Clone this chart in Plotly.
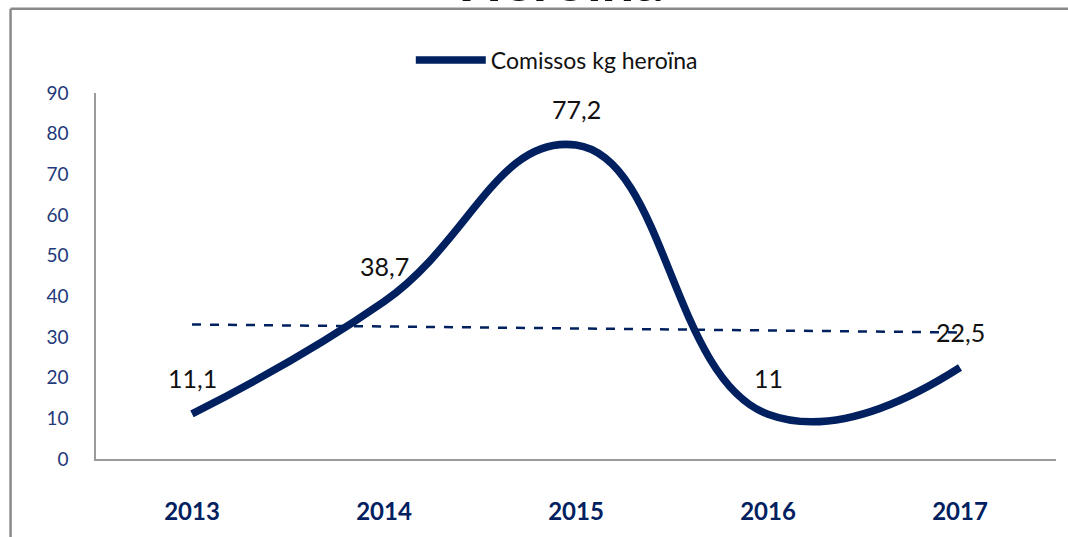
import numpy as np
import plotly.graph_objects as go

years = ["2013", "2014", "2015", "2016", "2017"]
seized_kg = [11.1, 38.7, 77.2, 11.0, 22.5]
labels = ["11,1", "38,7", "77,2", "11", "22,5"]
y_ticks = [0, 10, 20, 30, 40, 50, 60, 70, 80, 90]

navy = "#002060"
tick_blue = "#1F3A7A"
font_family = "Lato, Open Sans, sans-serif"

# linear trend over the category index
idx = np.arange(1, len(years) + 1)
slope, intercept = np.polyfit(idx, seized_kg, 1)
trend = [intercept + slope * i for i in (1, len(years))]

fig = go.Figure()
fig.add_trace(go.Scatter(
    x=years, y=seized_kg, mode="lines", name="Comissos kg heroïna",
    line=dict(color=navy, width=7.5, shape="spline", smoothing=1.3),
))
fig.add_trace(go.Scatter(
    x=[years[0], years[-1]], y=trend, mode="lines", showlegend=False,
    line=dict(color=navy, width=2.5, dash="dash"),
))

# value labels above each point (category index positions)
for i, (v, t) in enumerate(zip(seized_kg, labels)):
    fig.add_annotation(x=i, y=v, xref="x", yref="y", text=t, showarrow=False, yshift=36,
                       font=dict(size=25, color="#111111", family=font_family))

# chart title, mostly above the frame
fig.add_annotation(xref="paper", yref="paper", x=0.484, y=1.212, yanchor="bottom",
                   text="<b>Heroïna</b>", showarrow=False,
                   font=dict(size=58, color="#111111", family=font_family))

# outer frame (top and left edges)
fig.add_shape(type="line", xref="paper", yref="paper", x0=-0.089, x1=1.02, y0=1.230, y1=1.230,
              line=dict(color="#8a8a8a", width=2.5))
fig.add_shape(type="line", xref="paper", yref="paper", x0=-0.089, x1=-0.089, y0=1.230, y1=-0.3,
              line=dict(color="#8a8a8a", width=2.5))

fig.update_layout(
    width=1068, height=537,
    margin=dict(l=96, r=12, t=93, b=75),
    paper_bgcolor="white", plot_bgcolor="white",
    showlegend=True,
    legend=dict(orientation="h", x=0.48, xanchor="center", y=1.09, yanchor="middle",
                font=dict(size=23, color="#111111", family=font_family),
                itemwidth=70, bgcolor="rgba(0,0,0,0)"),
    xaxis=dict(type="category", showgrid=False, showline=True, linecolor="#9a9a9a", linewidth=1.5,
               ticks="", range=[-0.5, 4.5],
               tickfont=dict(size=24, color=navy, family=font_family, weight="bold"),
               ticklabelstandoff=30),
    yaxis=dict(range=[0, 90], tickvals=y_ticks, showgrid=False, showline=True,
               linecolor="#9a9a9a", linewidth=1.5, ticks="", zeroline=False,
               tickfont=dict(size=19, color=tick_blue, family=font_family),
               ticklabelstandoff=22),
)

fig.write_html("out.html")
